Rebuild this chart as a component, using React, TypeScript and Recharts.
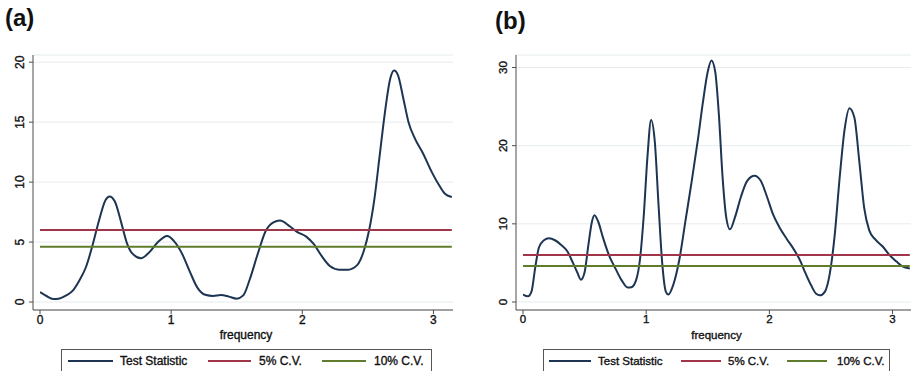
import React from "react";
import { LineChart, Line, XAxis, YAxis, CartesianGrid, Legend, Label } from "recharts";

// panel (a)
const freqA = [
  0.0, 0.05, 0.1, 0.15, 0.2, 0.25, 0.3, 0.35, 0.4, 0.45, 0.5, 0.53, 0.57, 0.62, 0.66, 0.7, 0.77, 0.83, 0.9,
  0.97, 1.02, 1.08, 1.14, 1.2, 1.26, 1.32, 1.38, 1.44, 1.5, 1.55, 1.6, 1.66, 1.72, 1.78, 1.83, 1.9, 1.96,
  2.03, 2.09, 2.15, 2.21, 2.28, 2.35, 2.42, 2.47, 2.51, 2.55, 2.59, 2.63, 2.67, 2.7, 2.73, 2.77, 2.81, 2.86,
  2.92, 2.98, 3.04, 3.09, 3.14,
];
const statA = [
  0.83, 0.5, 0.25, 0.3, 0.55, 0.95, 1.8, 2.9, 4.7, 6.8, 8.5, 8.8, 8.4, 6.6, 5.0, 4.1, 3.65, 4.1, 5.0,
  5.5, 5.1, 4.1, 2.6, 1.2, 0.6, 0.5, 0.58, 0.45, 0.28, 0.55, 1.9, 4.0, 5.9, 6.65, 6.8, 6.35, 5.85,
  5.45, 4.8, 3.8, 3.0, 2.7, 2.7, 3.1, 4.3, 6.0, 8.6, 12.2, 15.8, 18.6, 19.3, 18.9, 17.0, 15.0, 13.6,
  12.4, 11.0, 9.8, 9.0, 8.75,
];

// panel (b)
const freqB = [
  0.0, 0.04, 0.07, 0.1, 0.13, 0.17, 0.21, 0.26, 0.31, 0.36, 0.4, 0.44, 0.47, 0.5, 0.53, 0.56, 0.58, 0.61,
  0.65, 0.7, 0.75, 0.8, 0.85, 0.88, 0.92, 0.95, 0.98, 1.01, 1.04, 1.07, 1.1, 1.13, 1.16, 1.18, 1.22, 1.27,
  1.32, 1.37, 1.42, 1.46, 1.5, 1.53, 1.56, 1.59, 1.62, 1.65, 1.68, 1.72, 1.77, 1.82, 1.88, 1.93, 1.98,
  2.03, 2.08, 2.14, 2.2, 2.25, 2.29, 2.34, 2.38, 2.41, 2.45, 2.49, 2.53, 2.57, 2.61, 2.65, 2.69, 2.73,
  2.77, 2.81, 2.86, 2.92, 2.97, 3.03, 3.08, 3.14,
];
const statB = [
  0.95, 0.72, 1.4, 4.5, 7.0, 7.9, 8.15, 7.9, 7.3, 6.5, 5.2, 3.8, 2.85, 3.8, 7.2, 10.3, 11.1, 10.3,
  8.2, 5.9, 4.3, 2.8, 1.85, 1.9, 2.9, 5.5, 11.0, 18.5, 23.3, 20.5, 12.5, 5.0, 1.3, 0.95, 2.2, 5.5,
  10.5, 15.5, 20.8, 25.5, 29.5, 30.9, 29.5, 24.0, 16.0, 10.8, 9.3, 10.8, 13.5, 15.5, 16.15, 15.5, 13.5,
  11.2, 9.6, 8.1, 6.7, 5.3, 3.8, 2.1, 1.05, 0.85, 1.3, 3.6, 8.5, 15.8, 22.0, 24.8, 23.6, 18.0,
  12.0, 9.2, 8.0, 7.1, 6.1, 5.2, 4.55, 4.3,
];

const cv5 = 6.0;
const cv10 = 4.6;
const xTicks = [0, 1, 2, 3];
const yTicksA = [0, 5, 10, 15, 20];
const yTicksB = [0, 10, 20, 30];
const seriesNames = ["Test Statistic", "5% C.V.", "10% C.V."];
const seriesColors = ["#1d3552", "#a1354a", "#5f7c2c"];

const FONT = '"Liberation Sans", Arial, Helvetica, sans-serif';

const makeRows = (f: number[], s: number[]) => f.map((x, i) => ({ freq: x, stat: s[i], cv5, cv10 }));

// stata text looks a little heavier than plain regular
const heavy = { stroke: "#111", strokeWidth: 0.35 };

const RotTick = (props: any) => {
  const { x, y, payload, fs } = props;
  return (
    <text x={x} y={y} transform={`rotate(-90 ${x} ${y})`} textAnchor="middle" fill="#111" fontSize={fs} fontFamily={FONT} {...heavy}>
      {payload.value}
    </text>
  );
};

const BoxLegend = (props: any) => {
  const { payload = [], boxWidth, items, fs } = props;
  return (
    <div
      style={{
        position: "relative",
        width: boxWidth,
        height: 26,
        border: "1px solid #555",
        boxSizing: "border-box",
        background: "#fff",
        fontFamily: FONT,
        fontSize: fs,
        color: "#111",
        WebkitTextStroke: "0.35px #111",
      }}
    >
      {seriesNames.map((name, i) => {
        const entry = payload.find((e: any) => e.value === name);
        const [l0, l1, t0] = items[i];
        return (
          <React.Fragment key={name}>
            <div
              style={{ position: "absolute", left: l0, top: 10, width: l1 - l0, height: 2, background: entry ? entry.color : seriesColors[i] }}
            />
            <div style={{ position: "absolute", left: t0, top: 4, lineHeight: "14px", whiteSpace: "nowrap" }}>{name}</div>
          </React.Fragment>
        );
      })}
    </div>
  );
};

type PanelProps = {
  rows: any[];
  yTicks: number[];
  yTop: number;
  left: number;
  yAxisLeft: number;
  plotRight: number;
  padL: number;
  padR: number;
  fs: number;
  tag: string;
  tagLeft: number;
  tagTop: number;
  legLeft: number;
  legWidth: number;
  legItems: number[][];
};

const W = 460;
const H = 371;

const Panel = (p: PanelProps) => (
  <div style={{ position: "absolute", left: p.left, top: 0, width: W, height: H }}>
    <div style={{ position: "absolute", left: p.tagLeft, top: p.tagTop, fontFamily: FONT, fontWeight: "bold", fontSize: 24, color: "#111", zIndex: 2 }}>
      {p.tag}
    </div>
    <LineChart width={W} height={H} data={p.rows} margin={{ top: 55, right: W - p.plotRight, bottom: 31, left: p.yAxisLeft - 33 }}>
      <CartesianGrid vertical={false} stroke="#e6ecee" strokeWidth={1} />
      <XAxis
        dataKey="freq"
        type="number"
        domain={[0, Math.PI]}
        ticks={xTicks}
        allowDataOverflow
        padding={{ left: p.padL, right: p.padR }}
        height={30}
        tickSize={4}
        tickMargin={1}
        stroke="#4d4d4d"
        tick={{ fill: "#111", fontSize: p.fs, fontFamily: FONT, ...heavy }}
      >
        <Label
          content={(lp: any) => {
            const vb = lp.viewBox || {};
            const cx = vb.x + p.padL + (vb.width - p.padL - p.padR) / 2;
            return (
              <text x={cx} y={vb.y + 29} textAnchor="middle" fill="#111" fontSize={p.fs} fontFamily={FONT} {...heavy}>
                frequency
              </text>
            );
          }}
        />
      </XAxis>
      <YAxis
        type="number"
        domain={[0, p.yTop]}
        ticks={p.yTicks}
        allowDataOverflow
        padding={{ top: 0, bottom: 8 }}
        width={33}
        tickSize={4}
        tickMargin={5}
        stroke="#4d4d4d"
        tick={<RotTick fs={p.fs} />}
      />
      <Line dataKey="stat" name={seriesNames[0]} type="monotone" stroke={seriesColors[0]} strokeWidth={2} dot={false} isAnimationActive={false} />
      <Line dataKey="cv5" name={seriesNames[1]} type="linear" stroke={seriesColors[1]} strokeWidth={2} dot={false} isAnimationActive={false} />
      <Line dataKey="cv10" name={seriesNames[2]} type="linear" stroke={seriesColors[2]} strokeWidth={2} dot={false} isAnimationActive={false} />
      <Legend
        layout="horizontal"
        verticalAlign="middle"
        align="center"
        wrapperStyle={{ left: p.legLeft, top: 349, width: p.legWidth }}
        content={<BoxLegend boxWidth={p.legWidth} items={p.legItems} fs={p.fs} />}
      />
    </LineChart>
  </div>
);

export default function App() {
  return (
    <div style={{ position: "absolute", left: 0, top: 0, width: 913, height: 371, overflow: "hidden", background: "#fff" }}>
      <Panel
        rows={makeRows(freqA, statA)}
        yTicks={yTicksA}
        yTop={20.6}
        left={0}
        yAxisLeft={33}
        plotRight={453}
        padL={7}
        padR={1}
        fs={12}
        tag="(a)"
        tagLeft={5}
        tagTop={4}
        legLeft={61}
        legWidth={371}
        legItems={[
          [6, 51, 58],
          [146, 189, 197],
          [260, 304, 312],
        ]}
      />
      <Panel
        rows={makeRows(freqB, statB)}
        yTicks={yTicksB}
        yTop={31.6}
        left={453}
        yAxisLeft={63}
        plotRight={458}
        padL={7}
        padR={1}
        fs={11.5}
        tag="(b)"
        tagLeft={42}
        tagTop={7}
        legLeft={90}
        legWidth={347}
        legItems={[
          [5, 47, 54],
          [137, 177, 184],
          [243, 283, 293],
        ]}
      />
    </div>
  );
}
